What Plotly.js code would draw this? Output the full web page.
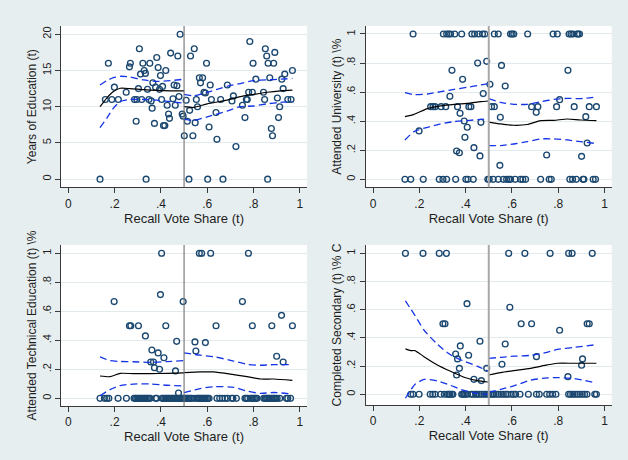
<!DOCTYPE html>
<html>
<head>
<meta charset="utf-8">
<script src="https://cdn.plot.ly/plotly-3.0.1.min.js"></script>
<style>html,body{margin:0;padding:0;background:#e7eef0;}#chart{width:628px;height:460px;}</style>
</head>
<body>
<div id="chart"></div>
<script>
// ---------- Tick labels ----------
const xTickVals = [0, 0.2, 0.4, 0.6, 0.8, 1];
const xTickText = ['0', '.2', '.4', '.6', '.8', '1'];
const shareTickVals = [0, 0.2, 0.4, 0.6, 0.8, 1];
const shareTickText = ['0', '.2', '.4', '.6', '.8', '1'];
const eduTickVals = [0, 5, 10, 15, 20];
const eduTickText = ['0', '5', '10', '15', '20'];
const xTitle = 'Recall Vote Share (t)';
const yTitles = ['Years of Education (t)', 'Attended University (t) \\%', 'Attended Technical Education (t) \\%', 'Completed Secondary (t) \\% C'];
const cutoff = 0.5;

// ---------- Panel 1: Years of Education ----------
const eduX = [0.137,0.16,0.173,0.188,0.199,0.216,0.25,0.264,0.268,0.286,
  0.293,0.296,0.303,0.307,0.312,0.317,0.322,0.328,0.333,0.336,
  0.342,0.348,0.352,0.358,0.362,0.365,0.372,0.377,0.382,0.388,
  0.394,0.398,0.403,0.407,0.411,0.417,0.421,0.427,0.433,0.437,
  0.442,0.452,0.457,0.462,0.469,0.473,0.478,0.483,0.492,0.496,
  0.501,0.509,0.514,0.521,0.524,0.528,0.538,0.544,0.548,0.553,
  0.558,0.566,0.571,0.58,0.586,0.592,0.597,0.602,0.608,0.613,
  0.618,0.638,0.642,0.658,0.668,0.687,0.707,0.713,0.724,0.752,
  0.763,0.769,0.773,0.779,0.784,0.795,0.798,0.81,0.843,0.848,
  0.851,0.857,0.861,0.863,0.87,0.877,0.882,0.887,0.892,0.903,
  0.908,0.913,0.922,0.928,0.935,0.948,0.962,0.968];
const eduY = [0,11,16,11,12.7,11,12,15.5,16,11,
  8,11,12.5,18,14.5,11,16,15,14.6,0,
  12.4,11,16,10.8,9.8,13.3,7.7,12.7,16.8,15.4,
  12.4,14.3,11,12.8,7.4,7.4,15,10.2,9,8.4,
  17.4,11.1,13,10.2,12.9,17,11.4,20,9,8.7,
  6,10.9,8,0,9.5,17,6,18,7.8,11,
  10,14,13.3,14,12,11.9,16,0,7.2,13,
  11,9.2,5.5,11,0,13,10.8,11.5,4.5,10.2,
  8.5,11,11,12,19,12,16,13.8,12,11,
  18,17,0,16,14,7,6,16,17.5,11.2,
  8.5,10,13.8,12.5,14.5,11,11,15];
const eduLX = [0.137,0.166,0.195,0.224,0.267,0.325,0.382,0.44,0.5];
const eduFitL = [10.0,11.2,12.1,12.55,12.5,12.35,12.25,12.2,12.2];
const eduHiL = [13.0,13.6,14.0,14.2,14.1,13.7,13.5,13.6,13.8];
const eduLoL = [7.1,8.4,9.8,10.7,11.0,11.0,10.9,10.7,10.5];
const eduRX = [0.5,0.541,0.6,0.685,0.743,0.8,0.859,0.916,0.968];
const eduFitR = [10.0,9.9,10.4,10.9,11.4,11.7,12.0,12.2,12.3];
const eduHiR = [11.7,11.5,12.0,12.8,13.2,13.6,13.7,13.8,13.9];
const eduLoR = [8.3,8.1,8.6,9.4,10.0,10.1,10.4,10.6,10.7];

// ---------- Panel 2: Attended University ----------
const uniOneX = [0.173,0.304,0.318,0.327,0.335,0.353,0.383,0.427,0.439,0.456,
  0.473,0.483,0.524,0.541,0.594,0.601,0.608,0.668,0.778,0.796,
  0.847,0.855,0.863,0.881,0.886,0.892];
const uniOneY = [1,1,1,1,1,1,1,1,1,1, 1,1,1,1,1,1,1,1,1,1, 1,1,1,1,1,1];
const uniZeroX = [0.138,0.163,0.217,0.286,0.302,0.318,0.357,0.401,0.41,0.433,
  0.496,0.502,0.519,0.541,0.563,0.577,0.586,0.594,0.614,0.637,
  0.647,0.659,0.724,0.761,0.77,0.85,0.862,0.878,0.907,0.911,
  0.951,0.961];
const uniZeroY = [0,0,0,0,0,0,0,0,0,0, 0,0,0,0,0,0,0,0,0,0, 0,0,0,0,0,0,0,0,0,0, 0,0];
const uniMidX = [0.199,0.249,0.259,0.268,0.294,0.314,0.332,0.341,0.365,0.376,
  0.387,0.394,0.397,0.407,0.361,0.373,0.414,0.423,0.436,0.452,
  0.462,0.466,0.476,0.491,0.505,0.512,0.524,0.548,0.55,0.555,
  0.571,0.685,0.705,0.712,0.75,0.793,0.806,0.842,0.869,0.901,
  0.919,0.925,0.934,0.965];
const uniMidY = [0.333,0.5,0.5,0.5,0.5,0.5,0.571,0.75,0.5,0.454,
  0.688,0.401,0.289,0.358,0.195,0.183,0.5,0.5,0.218,0.8,
  0.161,0.392,0.59,0.812,0.654,0.5,0.5,0.096,0.427,0.784,
  0.642,0.5,0.461,0.5,0.167,0.5,0.548,0.75,0.5,0.158,
  0.431,0.25,0.5,0.5];
const uniLX = [0.138,0.177,0.235,0.292,0.35,0.407,0.465,0.5];
const uniFitL = [0.431,0.447,0.486,0.505,0.516,0.523,0.534,0.539];
const uniHiL = [0.596,0.583,0.587,0.603,0.619,0.633,0.649,0.658];
const uniLoL = [0.271,0.328,0.358,0.381,0.397,0.404,0.413,0.415];
const uniRX = [0.5,0.551,0.608,0.666,0.724,0.781,0.839,0.896,0.965];
const uniFitR = [0.394,0.381,0.372,0.377,0.404,0.406,0.415,0.408,0.404];
const uniHiR = [0.555,0.530,0.516,0.516,0.534,0.55,0.557,0.555,0.566];
const uniLoR = [0.232,0.232,0.243,0.259,0.278,0.278,0.271,0.259,0.246];

// ---------- Panel 3: Attended Technical Education ----------
const techZeroX = [0.137,0.156,0.166,0.175,0.215,0.251,0.284,0.29,0.296,0.302,
  0.307,0.313,0.319,0.325,0.33,0.336,0.342,0.348,0.354,0.377,
  0.382,0.405,0.411,0.417,0.423,0.429,0.434,0.44,0.446,0.452,
  0.457,0.463,0.469,0.475,0.481,0.486,0.492,0.498,0.504,0.509,
  0.515,0.521,0.527,0.532,0.544,0.556,0.561,0.567,0.573,0.579,
  0.584,0.59,0.596,0.602,0.608,0.642,0.654,0.665,0.677,0.688,
  0.706,0.711,0.726,0.763,0.769,0.775,0.786,0.792,0.798,0.804,
  0.81,0.815,0.844,0.85,0.856,0.861,0.867,0.873,0.879,0.885,
  0.89,0.896,0.902,0.913,0.942,0.948,0.96];
const techZeroY = [0,0,0,0,0,0,0,0,0,0, 0,0,0,0,0,0,0,0,0,0,
  0,0,0,0,0,0,0,0,0,0, 0,0,0,0,0,0,0,0,0,0,
  0,0,0,0,0,0,0,0,0,0, 0,0,0,0,0,0,0,0,0,0,
  0,0,0,0,0,0,0,0,0,0, 0,0,0,0,0,0,0,0,0,0,
  0,0,0,0,0,0,0];
const techMidX = [0.198,0.264,0.27,0.303,0.333,0.361,0.356,0.368,0.372,0.388,
  0.394,0.398,0.403,0.413,0.421,0.463,0.468,0.476,0.496,0.547,
  0.551,0.566,0.576,0.592,0.615,0.638,0.752,0.778,0.795,0.879,
  0.9,0.921,0.928,0.968];
const techMidY = [0.667,0.5,0.5,0.5,0.43,0.333,0.25,0.25,0.211,0.313,
  0.2,0.715,1,0.28,0.5,0.189,0.393,0.037,0.667,0.389,
  0.326,1,1,0.384,1,0.5,0.667,1,0.5,0.5,
  0.29,0.572,0.25,0.5];
const techLX = [0.137,0.18,0.224,0.281,0.354,0.426,0.5];
const techFitL = [0.154,0.149,0.172,0.17,0.17,0.172,0.175];
const techHiL = [0.285,0.26,0.254,0.252,0.248,0.253,0.26];
const techLoL = [0.018,0.06,0.088,0.098,0.099,0.09,0.085];
const techRX = [0.5,0.57,0.628,0.714,0.772,0.83,0.887,0.968];
const techFitR = [0.177,0.182,0.182,0.163,0.149,0.133,0.133,0.124];
const techHiR = [0.313,0.297,0.287,0.257,0.234,0.228,0.232,0.232];
const techLoR = [0.039,0.067,0.08,0.076,0.05,0.034,0.04,0.03];

// ---------- Panel 4: Completed Secondary ----------
const secOneX = [0.14,0.216,0.286,0.317,0.586,0.656,0.765,0.845,0.86,0.947];
const secOneY = [1,1,1,1,1,1,1,1,1,1];
const secZeroX = [0.163,0.173,0.199,0.247,0.258,0.268,0.292,0.308,0.321,0.327,
  0.332,0.34,0.345,0.383,0.388,0.394,0.4,0.407,0.424,0.432,
  0.443,0.449,0.459,0.469,0.479,0.488,0.498,0.508,0.515,0.522,
  0.532,0.542,0.553,0.563,0.573,0.581,0.597,0.607,0.616,0.635,
  0.671,0.706,0.718,0.75,0.763,0.776,0.79,0.845,0.853,0.863,
  0.873,0.883,0.894,0.904,0.914,0.924,0.958,0.965];
const secZeroY = [0,0,0,0,0,0,0,0,0,0, 0,0,0,0,0,0,0,0,0,0,
  0,0,0,0,0,0,0,0,0,0, 0,0,0,0,0,0,0,0,0,0,
  0,0,0,0,0,0,0,0,0,0, 0,0,0,0,0,0,0,0];
const secMidX = [0.302,0.311,0.357,0.365,0.361,0.373,0.377,0.406,0.413,0.436,
  0.462,0.468,0.491,0.557,0.571,0.591,0.64,0.685,0.706,0.806,
  0.842,0.901,0.905,0.925,0.934];
const secMidY = [0.5,0.5,0.286,0.251,0.137,0.184,0.343,0.643,0.277,0.106,
  0.376,0.097,0.184,0.213,0.357,0.617,0.5,0.5,0.267,0.454,
  0.125,0.206,0.251,0.5,0.5];
const secLX = [0.14,0.163,0.181,0.22,0.278,0.335,0.393,0.45,0.496];
const secFitL = [0.322,0.31,0.31,0.267,0.208,0.163,0.121,0.097,0.087];
const secHiL = [0.662,0.605,0.56,0.456,0.355,0.28,0.235,0.2,0.165];
const secLoL = [-0.028,0.031,0.07,0.105,0.095,0.063,0.027,0.006,0.0];
const secRX = [0.5,0.551,0.608,0.68,0.752,0.796,0.868,0.965];
const secFitR = [0.137,0.154,0.168,0.184,0.208,0.22,0.22,0.22];
const secHiR = [0.255,0.262,0.27,0.276,0.298,0.318,0.333,0.352];
const secLoR = [0.014,0.035,0.059,0.1,0.116,0.118,0.112,0.08];

// ---------- Styling ----------
const FONT = 'Liberation Sans, Arial, sans-serif';
const TXT = '#1e1e1e';
const MARK = '#1a476f';
const CIBLUE = '#1433e6';
const BG = '#e7eef0';
const GRID = '#e3eaed';

const traces = [];
function addPoints(xs, ys, ax) {
  traces.push({type: 'scatter', mode: 'markers', x: xs, y: ys, xaxis: 'x' + ax, yaxis: 'y' + ax,
    marker: {symbol: 'circle-open', size: 5.8, color: MARK, line: {color: MARK, width: 1.35}},
    hoverinfo: 'skip', cliponaxis: false});
}
function addLine(xs, ys, ax, dashed) {
  traces.push({type: 'scatter', mode: 'lines', x: xs, y: ys, xaxis: 'x' + ax, yaxis: 'y' + ax,
    line: dashed ? {color: CIBLUE, width: 1.3, dash: '7px,4px', shape: 'spline', smoothing: 0.6}
                 : {color: '#000000', width: 1.2, shape: 'spline', smoothing: 0.6},
    hoverinfo: 'skip'});
}

addPoints(eduX, eduY, '');
addLine(eduLX, eduHiL, '', true); addLine(eduLX, eduLoL, '', true);
addLine(eduRX, eduHiR, '', true); addLine(eduRX, eduLoR, '', true);
addLine(eduLX, eduFitL, '', false); addLine(eduRX, eduFitR, '', false);

addPoints(uniOneX, uniOneY, '2'); addPoints(uniZeroX, uniZeroY, '2'); addPoints(uniMidX, uniMidY, '2');
addLine(uniLX, uniHiL, '2', true); addLine(uniLX, uniLoL, '2', true);
addLine(uniRX, uniHiR, '2', true); addLine(uniRX, uniLoR, '2', true);
addLine(uniLX, uniFitL, '2', false); addLine(uniRX, uniFitR, '2', false);

addPoints(techZeroX, techZeroY, '3'); addPoints(techMidX, techMidY, '3');
addLine(techLX, techHiL, '3', true); addLine(techLX, techLoL, '3', true);
addLine(techRX, techHiR, '3', true); addLine(techRX, techLoR, '3', true);
addLine(techLX, techFitL, '3', false); addLine(techRX, techFitR, '3', false);

addPoints(secOneX, secOneY, '4'); addPoints(secZeroX, secZeroY, '4'); addPoints(secMidX, secMidY, '4');
addLine(secLX, secHiL, '4', true); addLine(secLX, secLoL, '4', true);
addLine(secRX, secHiR, '4', true); addLine(secRX, secLoR, '4', true);
addLine(secLX, secFitL, '4', false); addLine(secRX, secFitR, '4', false);

const W = 628, H = 460;
function xd(l, r) { return [l / W, r / W]; }
function yd(top, bottom) { return [1 - bottom / H, 1 - top / H]; }

function xAxis(dom, anchor) {
  return {domain: dom, anchor: anchor, range: [-0.0316, 1.031], tickvals: xTickVals, ticktext: xTickText,
    showgrid: false, zeroline: false, showline: true, linecolor: '#3a3a3a', linewidth: 1,
    ticks: 'outside', ticklen: 5, tickcolor: '#3a3a3a', tickwidth: 1,
    tickfont: {family: FONT, size: 12, color: TXT},
    title: {text: xTitle, font: {family: FONT, size: 13, color: TXT}, standoff: 0}};
}
function yAxis(dom, anchor, range, tv, tt, title) {
  return {domain: dom, anchor: anchor, range: range, tickvals: tv, ticktext: tt,
    showgrid: true, gridcolor: GRID, gridwidth: 1, zeroline: false, showline: true, linecolor: '#3a3a3a', linewidth: 1,
    ticks: 'outside', ticklen: 5, tickcolor: '#3a3a3a', tickwidth: 1, tickangle: -90,
    tickfont: {family: FONT, size: 11, color: TXT},
    title: {text: title, font: {family: FONT, size: 12, color: TXT}, standoff: 1}};
}

const layout = {
  width: W, height: H, margin: {l: 0, r: 0, t: 0, b: 0},
  paper_bgcolor: BG, plot_bgcolor: '#ffffff', showlegend: false, hovermode: false,
  font: {family: FONT, color: TXT},
  xaxis: xAxis(xd(61, 307), 'y'),
  yaxis: yAxis(yd(26, 187.3), 'x', [-1.12, 21.14], eduTickVals, eduTickText, yTitles[0]),
  xaxis2: xAxis(xd(365.7, 611.7), 'y2'),
  yaxis2: yAxis(yd(26, 187.3), 'x2', [-0.055, 1.055], shareTickVals, shareTickText, yTitles[1]),
  xaxis3: xAxis(xd(61, 307), 'y3'),
  yaxis3: yAxis(yd(245, 406), 'x3', [-0.053, 1.057], shareTickVals, shareTickText, yTitles[2]),
  xaxis4: xAxis(xd(365.7, 611.7), 'y4'),
  yaxis4: yAxis(yd(245, 405), 'x4', [-0.076, 1.059], shareTickVals, shareTickText, yTitles[3]),
  shapes: [
    {type: 'line', xref: 'x', yref: 'y domain', x0: cutoff, x1: cutoff, y0: 0, y1: 1, line: {color: '#707070', width: 1.1}},
    {type: 'line', xref: 'x2', yref: 'y2 domain', x0: cutoff, x1: cutoff, y0: 0, y1: 1, line: {color: '#a8a8a8', width: 2}},
    {type: 'line', xref: 'x3', yref: 'y3 domain', x0: cutoff, x1: cutoff, y0: 0, y1: 1, line: {color: '#707070', width: 1.1}},
    {type: 'line', xref: 'x4', yref: 'y4 domain', x0: cutoff, x1: cutoff, y0: 0, y1: 1, line: {color: '#a8a8a8', width: 2}}
  ]
};

Plotly.newPlot('chart', traces, layout, {staticPlot: true, displayModeBar: false});
</script>
</body>
</html>
